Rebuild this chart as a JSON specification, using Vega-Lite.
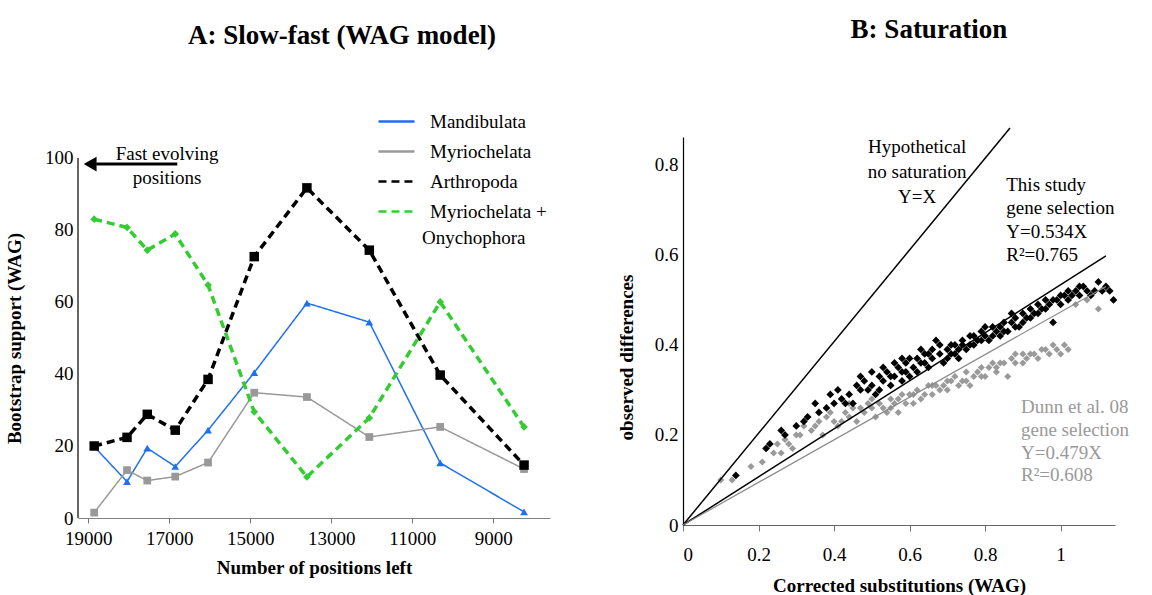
{
  "$schema": "https://vega.github.io/schema/vega-lite/v6.json",
  "background": "white",
  "padding": {"left": 5, "top": 15, "right": 5, "bottom": 5},
  "spacing": 67,
  "config": {
    "font": "Liberation Serif",
    "view": {"stroke": null},
    "axis": {"grid": false, "labelFont": "Liberation Serif", "titleFont": "Liberation Serif", "labelColor": "black", "titleColor": "black", "labelFontSize": 19, "titleFontSize": 19, "titleFontWeight": "bold", "domainColor": "black", "tickColor": "#777777", "domainWidth": 1.2},
    "title": {"font": "Liberation Serif", "fontSize": 27, "fontWeight": "bold", "color": "black"},
    "legend": {"labelFont": "Liberation Serif", "labelFontSize": 19, "labelColor": "black"}
  },
  "datasets": {
    "bootstrap": [
      {"series": "Mandibulata", "positions": 18850, "support": 19.8},
      {"series": "Mandibulata", "positions": 18040, "support": 10.1},
      {"series": "Mandibulata", "positions": 17540, "support": 19.4},
      {"series": "Mandibulata", "positions": 16850, "support": 14.3},
      {"series": "Mandibulata", "positions": 16040, "support": 24.4},
      {"series": "Mandibulata", "positions": 14900, "support": 40.4},
      {"series": "Mandibulata", "positions": 13600, "support": 59.7},
      {"series": "Mandibulata", "positions": 12060, "support": 54.4},
      {"series": "Mandibulata", "positions": 10310, "support": 15.3},
      {"series": "Mandibulata", "positions": 8240, "support": 1.7},
      {"series": "Myriochelata", "positions": 18850, "support": 1.5},
      {"series": "Myriochelata", "positions": 18040, "support": 13.3},
      {"series": "Myriochelata", "positions": 17540, "support": 10.4},
      {"series": "Myriochelata", "positions": 16850, "support": 11.5},
      {"series": "Myriochelata", "positions": 16040, "support": 15.4},
      {"series": "Myriochelata", "positions": 14900, "support": 34.8},
      {"series": "Myriochelata", "positions": 13600, "support": 33.6},
      {"series": "Myriochelata", "positions": 12060, "support": 22.5},
      {"series": "Myriochelata", "positions": 10310, "support": 25.3},
      {"series": "Myriochelata", "positions": 8240, "support": 13.6},
      {"series": "Arthropoda", "positions": 18850, "support": 20},
      {"series": "Arthropoda", "positions": 18040, "support": 22.4},
      {"series": "Arthropoda", "positions": 17540, "support": 28.8},
      {"series": "Arthropoda", "positions": 16850, "support": 24.4},
      {"series": "Arthropoda", "positions": 16040, "support": 38.5},
      {"series": "Arthropoda", "positions": 14900, "support": 72.6},
      {"series": "Arthropoda", "positions": 13600, "support": 91.7},
      {"series": "Arthropoda", "positions": 12060, "support": 74.4},
      {"series": "Arthropoda", "positions": 10310, "support": 39.7},
      {"series": "Arthropoda", "positions": 8240, "support": 14.7},
      {"series": "Myriochelata + Onychophora", "positions": 18850, "support": 83},
      {"series": "Myriochelata + Onychophora", "positions": 18040, "support": 80.7},
      {"series": "Myriochelata + Onychophora", "positions": 17540, "support": 74.4},
      {"series": "Myriochelata + Onychophora", "positions": 16850, "support": 78.9},
      {"series": "Myriochelata + Onychophora", "positions": 16040, "support": 64.7},
      {"series": "Myriochelata + Onychophora", "positions": 14900, "support": 29.5},
      {"series": "Myriochelata + Onychophora", "positions": 13600, "support": 11.4},
      {"series": "Myriochelata + Onychophora", "positions": 12060, "support": 27.8},
      {"series": "Myriochelata + Onychophora", "positions": 10310, "support": 60},
      {"series": "Myriochelata + Onychophora", "positions": 8240, "support": 25.3}
    ],
    "leftNotes": [
      {"positions": 17050, "support": 101, "label": "Fast evolving"},
      {"positions": 17050, "support": 94.4, "label": "positions"}
    ],
    "legendWrap": [
      {"positions": 10760, "support": 77.8, "label": "Onychophora"}
    ],
    "yAxisLine": [
      {"positions": 19250, "support": 0, "support2": 100}
    ],
    "arrow": [
      {"positions": 16800, "positions2": 18800, "support": 98.3}
    ],
    "arrowHead": [
      {"positions": 18950, "support": 98.3}
    ],
    "fits": [
      {"line": "xy", "cs": 0, "obs": 0},
      {"line": "xy", "cs": 0.866, "obs": 0.882},
      {"line": "this", "cs": 0, "obs": 0},
      {"line": "this", "cs": 1.12, "obs": 0.598},
      {"line": "dunn", "cs": 0, "obs": 0},
      {"line": "dunn", "cs": 1.12, "obs": 0.53}
    ],
    "dunn": [
      {"cs": 0.10, "obs": 0.10}, {"cs": 0.13, "obs": 0.10}, {"cs": 0.18, "obs": 0.13}, {"cs": 0.21, "obs": 0.14},
      {"cs": 0.23, "obs": 0.18}, {"cs": 0.25, "obs": 0.18}, {"cs": 0.26, "obs": 0.16}, {"cs": 0.28, "obs": 0.18},
      {"cs": 0.30, "obs": 0.20}, {"cs": 0.31, "obs": 0.20}, {"cs": 0.33, "obs": 0.24}, {"cs": 0.34, "obs": 0.21},
      {"cs": 0.36, "obs": 0.23}, {"cs": 0.37, "obs": 0.20}, {"cs": 0.39, "obs": 0.25}, {"cs": 0.40, "obs": 0.23},
      {"cs": 0.41, "obs": 0.22}, {"cs": 0.43, "obs": 0.25}, {"cs": 0.44, "obs": 0.24}, {"cs": 0.45, "obs": 0.26},
      {"cs": 0.46, "obs": 0.23}, {"cs": 0.48, "obs": 0.25}, {"cs": 0.49, "obs": 0.27}, {"cs": 0.50, "obs": 0.26},
      {"cs": 0.51, "obs": 0.24}, {"cs": 0.52, "obs": 0.27}, {"cs": 0.54, "obs": 0.25}, {"cs": 0.55, "obs": 0.28},
      {"cs": 0.56, "obs": 0.27}, {"cs": 0.57, "obs": 0.25}, {"cs": 0.58, "obs": 0.29}, {"cs": 0.60, "obs": 0.29},
      {"cs": 0.61, "obs": 0.27}, {"cs": 0.62, "obs": 0.30}, {"cs": 0.63, "obs": 0.28}, {"cs": 0.65, "obs": 0.31},
      {"cs": 0.66, "obs": 0.29}, {"cs": 0.67, "obs": 0.31}, {"cs": 0.69, "obs": 0.31}, {"cs": 0.70, "obs": 0.30},
      {"cs": 0.71, "obs": 0.32}, {"cs": 0.72, "obs": 0.33}, {"cs": 0.74, "obs": 0.32}, {"cs": 0.75, "obs": 0.34},
      {"cs": 0.76, "obs": 0.31}, {"cs": 0.78, "obs": 0.34}, {"cs": 0.79, "obs": 0.35}, {"cs": 0.80, "obs": 0.33},
      {"cs": 0.82, "obs": 0.36}, {"cs": 0.83, "obs": 0.34}, {"cs": 0.84, "obs": 0.36}, {"cs": 0.86, "obs": 0.33},
      {"cs": 0.87, "obs": 0.37}, {"cs": 0.88, "obs": 0.36}, {"cs": 0.90, "obs": 0.38}, {"cs": 0.91, "obs": 0.37},
      {"cs": 0.93, "obs": 0.38}, {"cs": 0.95, "obs": 0.39}, {"cs": 0.97, "obs": 0.38}, {"cs": 0.99, "obs": 0.39},
      {"cs": 1.01, "obs": 0.40}, {"cs": 1.02, "obs": 0.39}, {"cs": 1.04, "obs": 0.49}, {"cs": 1.07, "obs": 0.50},
      {"cs": 1.10, "obs": 0.48},
      {"cs": 0.35, "obs": 0.22}, {"cs": 0.38, "obs": 0.24}, {"cs": 0.42, "obs": 0.23}, {"cs": 0.44, "obs": 0.27},
      {"cs": 0.47, "obs": 0.26}, {"cs": 0.50, "obs": 0.28}, {"cs": 0.53, "obs": 0.26}, {"cs": 0.55, "obs": 0.26},
      {"cs": 0.57, "obs": 0.28}, {"cs": 0.59, "obs": 0.27}, {"cs": 0.61, "obs": 0.29}, {"cs": 0.64, "obs": 0.29},
      {"cs": 0.66, "obs": 0.31}, {"cs": 0.68, "obs": 0.30}, {"cs": 0.70, "obs": 0.32}, {"cs": 0.73, "obs": 0.31},
      {"cs": 0.75, "obs": 0.32}, {"cs": 0.77, "obs": 0.33}, {"cs": 0.79, "obs": 0.33}, {"cs": 0.81, "obs": 0.35},
      {"cs": 0.83, "obs": 0.35}, {"cs": 0.85, "obs": 0.36}, {"cs": 0.88, "obs": 0.38}, {"cs": 0.90, "obs": 0.36},
      {"cs": 0.92, "obs": 0.38}, {"cs": 0.94, "obs": 0.37}, {"cs": 0.96, "obs": 0.39}, {"cs": 0.98, "obs": 0.40},
      {"cs": 1.00, "obs": 0.38}, {"cs": 0.27, "obs": 0.19}, {"cs": 0.29, "obs": 0.17}, {"cs": 0.32, "obs": 0.22},
      {"cs": 0.24, "obs": 0.16}
    ],
    "thisStudy": [
      {"cs": 0.14, "obs": 0.11}, {"cs": 0.22, "obs": 0.17}, {"cs": 0.23, "obs": 0.18}, {"cs": 0.26, "obs": 0.21},
      {"cs": 0.27, "obs": 0.20}, {"cs": 0.30, "obs": 0.22}, {"cs": 0.32, "obs": 0.23}, {"cs": 0.33, "obs": 0.24},
      {"cs": 0.36, "obs": 0.25}, {"cs": 0.38, "obs": 0.26}, {"cs": 0.39, "obs": 0.29}, {"cs": 0.40, "obs": 0.27},
      {"cs": 0.42, "obs": 0.28}, {"cs": 0.44, "obs": 0.29}, {"cs": 0.45, "obs": 0.27}, {"cs": 0.46, "obs": 0.31},
      {"cs": 0.47, "obs": 0.30}, {"cs": 0.48, "obs": 0.32}, {"cs": 0.50, "obs": 0.31}, {"cs": 0.51, "obs": 0.29},
      {"cs": 0.52, "obs": 0.33}, {"cs": 0.53, "obs": 0.32}, {"cs": 0.54, "obs": 0.34}, {"cs": 0.55, "obs": 0.31},
      {"cs": 0.56, "obs": 0.33}, {"cs": 0.57, "obs": 0.35}, {"cs": 0.58, "obs": 0.34}, {"cs": 0.59, "obs": 0.36},
      {"cs": 0.60, "obs": 0.33}, {"cs": 0.61, "obs": 0.35}, {"cs": 0.62, "obs": 0.37}, {"cs": 0.63, "obs": 0.36},
      {"cs": 0.64, "obs": 0.38}, {"cs": 0.65, "obs": 0.35}, {"cs": 0.66, "obs": 0.37}, {"cs": 0.67, "obs": 0.41},
      {"cs": 0.68, "obs": 0.38}, {"cs": 0.69, "obs": 0.36}, {"cs": 0.70, "obs": 0.39}, {"cs": 0.71, "obs": 0.38},
      {"cs": 0.72, "obs": 0.40}, {"cs": 0.73, "obs": 0.39}, {"cs": 0.74, "obs": 0.41}, {"cs": 0.75, "obs": 0.39},
      {"cs": 0.76, "obs": 0.40}, {"cs": 0.77, "obs": 0.42}, {"cs": 0.78, "obs": 0.41}, {"cs": 0.79, "obs": 0.43},
      {"cs": 0.80, "obs": 0.42}, {"cs": 0.81, "obs": 0.41}, {"cs": 0.82, "obs": 0.44}, {"cs": 0.83, "obs": 0.43},
      {"cs": 0.84, "obs": 0.44}, {"cs": 0.85, "obs": 0.45}, {"cs": 0.86, "obs": 0.43}, {"cs": 0.87, "obs": 0.45},
      {"cs": 0.88, "obs": 0.46}, {"cs": 0.89, "obs": 0.44}, {"cs": 0.90, "obs": 0.47}, {"cs": 0.91, "obs": 0.46},
      {"cs": 0.92, "obs": 0.48}, {"cs": 0.93, "obs": 0.47}, {"cs": 0.94, "obs": 0.49}, {"cs": 0.95, "obs": 0.48},
      {"cs": 0.96, "obs": 0.50}, {"cs": 0.97, "obs": 0.49}, {"cs": 0.98, "obs": 0.45}, {"cs": 0.99, "obs": 0.50},
      {"cs": 1.00, "obs": 0.49}, {"cs": 1.01, "obs": 0.51}, {"cs": 1.02, "obs": 0.50}, {"cs": 1.03, "obs": 0.51},
      {"cs": 1.04, "obs": 0.52}, {"cs": 1.05, "obs": 0.51}, {"cs": 1.06, "obs": 0.53}, {"cs": 1.07, "obs": 0.52},
      {"cs": 1.09, "obs": 0.52}, {"cs": 1.10, "obs": 0.54}, {"cs": 1.12, "obs": 0.53}, {"cs": 1.13, "obs": 0.52},
      {"cs": 1.14, "obs": 0.50},
      {"cs": 0.35, "obs": 0.27}, {"cs": 0.41, "obs": 0.30}, {"cs": 0.43, "obs": 0.27}, {"cs": 0.47, "obs": 0.33},
      {"cs": 0.49, "obs": 0.30}, {"cs": 0.50, "obs": 0.34}, {"cs": 0.52, "obs": 0.30}, {"cs": 0.53, "obs": 0.35},
      {"cs": 0.55, "obs": 0.33}, {"cs": 0.56, "obs": 0.36}, {"cs": 0.58, "obs": 0.32}, {"cs": 0.59, "obs": 0.34},
      {"cs": 0.60, "obs": 0.37}, {"cs": 0.62, "obs": 0.34}, {"cs": 0.63, "obs": 0.39}, {"cs": 0.64, "obs": 0.36},
      {"cs": 0.66, "obs": 0.39}, {"cs": 0.68, "obs": 0.40}, {"cs": 0.70, "obs": 0.37}, {"cs": 0.71, "obs": 0.40},
      {"cs": 0.73, "obs": 0.37}, {"cs": 0.74, "obs": 0.40}, {"cs": 0.76, "obs": 0.42}, {"cs": 0.77, "obs": 0.40},
      {"cs": 0.79, "obs": 0.41}, {"cs": 0.80, "obs": 0.44}, {"cs": 0.82, "obs": 0.42}, {"cs": 0.84, "obs": 0.42},
      {"cs": 0.85, "obs": 0.43}, {"cs": 0.87, "obs": 0.47}, {"cs": 0.88, "obs": 0.44}, {"cs": 0.90, "obs": 0.45},
      {"cs": 0.92, "obs": 0.46}, {"cs": 0.94, "obs": 0.47}, {"cs": 0.96, "obs": 0.48}, {"cs": 0.98, "obs": 0.50},
      {"cs": 1.00, "obs": 0.51}, {"cs": 1.02, "obs": 0.52}, {"cs": 1.05, "obs": 0.53}, {"cs": 1.08, "obs": 0.51},
      {"cs": 1.11, "obs": 0.52}, {"cs": 0.58, "obs": 0.37}, {"cs": 0.65, "obs": 0.38}, {"cs": 0.72, "obs": 0.38}
    ],
    "centerNotes": [
      {"cs": 0.62, "obs": 0.84, "label": "Hypothetical"},
      {"cs": 0.62, "obs": 0.785, "label": "no saturation"},
      {"cs": 0.62, "obs": 0.729, "label": "Y=X"}
    ],
    "leftAlignedNotes": [
      {"group": "this", "cs": 0.856, "obs": 0.756, "label": "This study"},
      {"group": "this", "cs": 0.856, "obs": 0.704, "label": "gene selection"},
      {"group": "this", "cs": 0.856, "obs": 0.651, "label": "Y=0.534X"},
      {"group": "this", "cs": 0.856, "obs": 0.600, "label": "R²=0.765"},
      {"group": "dunn", "cs": 0.895, "obs": 0.262, "label": "Dunn et al. 08"},
      {"group": "dunn", "cs": 0.895, "obs": 0.211, "label": "gene selection"},
      {"group": "dunn", "cs": 0.895, "obs": 0.160, "label": "Y=0.479X"},
      {"group": "dunn", "cs": 0.895, "obs": 0.111, "label": "R²=0.608"}
    ]
  },
  "hconcat": [
    {
      "width": 472,
      "height": 381,
      "title": {"text": "A: Slow-fast (WAG model)", "offset": 87, "dx": 28},
      "layer": [
        {
          "data": {"name": "bootstrap"},
          "mark": {"type": "line"},
          "encoding": {
            "x": {"field": "positions", "type": "quantitative",
              "scale": {"domain": [7600, 19250], "reverse": true, "nice": false, "zero": false},
              "axis": {"title": "Number of positions left", "values": [19000, 17000, 15000, 13000, 11000, 9000], "format": "d", "tickSize": 5, "domainColor": "#808080", "labelPadding": 6, "titlePadding": 10}},
            "y": {"field": "support", "type": "quantitative",
              "scale": {"domain": [0, 105.83], "nice": false},
              "axis": {"title": "Bootstrap support (WAG)", "values": [0, 10, 20, 30, 40, 50, 60, 70, 80, 90, 100], "tickSize": 0, "domain": false, "labelPadding": 5, "titlePadding": 20, "titleY": 201}},
            "color": {"field": "series", "type": "nominal", "title": null,
              "scale": {"domain": ["Mandibulata", "Myriochelata", "Arthropoda", "Myriochelata + Onychophora"], "range": ["#1f6ff2", "#999999", "#000000", "#33cc33"]},
              "legend": {"orient": "none", "legendX": 299, "legendY": -35, "symbolType": "stroke", "symbolSize": 1300, "symbolStrokeWidth": 2.5, "rowPadding": 0, "labelOffset": 14,
                "labelExpr": "datum.label == 'Myriochelata + Onychophora' ? 'Myriochelata +' : datum.label"}},
            "strokeDash": {"field": "series", "type": "nominal", "title": null,
              "scale": {"domain": ["Mandibulata", "Myriochelata", "Arthropoda", "Myriochelata + Onychophora"], "range": [[1, 0], [1, 0], [8, 5], [8, 5]]}},
            "strokeWidth": {"condition": {"test": "datum.series == 'Arthropoda' || datum.series == 'Myriochelata + Onychophora'", "value": 3.5}, "value": 1.5}
          }
        },
        {
          "data": {"name": "bootstrap"},
          "mark": {"type": "point", "filled": true, "opacity": 1, "strokeWidth": 0},
          "encoding": {
            "x": {"field": "positions", "type": "quantitative"},
            "y": {"field": "support", "type": "quantitative"},
            "fill": {"condition": [
                {"test": "datum.series == 'Mandibulata'", "value": "#1f6ff2"},
                {"test": "datum.series == 'Myriochelata'", "value": "#999999"},
                {"test": "datum.series == 'Arthropoda'", "value": "#000000"}
              ], "value": "#33cc33"},
            "shape": {"condition": [
                {"test": "datum.series == 'Mandibulata'", "value": "triangle-up"},
                {"test": "datum.series == 'Myriochelata + Onychophora'", "value": "diamond"}
              ], "value": "square"},
            "size": {"condition": {"test": "datum.series == 'Arthropoda'", "value": 90}, "value": 60}
          }
        },
        {
          "data": {"name": "yAxisLine"},
          "mark": {"type": "rule", "color": "black", "strokeWidth": 1.2},
          "encoding": {
            "x": {"field": "positions", "type": "quantitative"},
            "y": {"field": "support", "type": "quantitative"},
            "y2": {"field": "support2"}
          }
        },
        {
          "data": {"name": "leftNotes"},
          "mark": {"type": "text", "fontSize": 19, "font": "Liberation Serif", "align": "center", "baseline": "middle", "color": "black"},
          "encoding": {
            "x": {"field": "positions", "type": "quantitative"},
            "y": {"field": "support", "type": "quantitative"},
            "text": {"field": "label"}
          }
        },
        {
          "data": {"name": "legendWrap"},
          "mark": {"type": "text", "fontSize": 19, "font": "Liberation Serif", "align": "left", "baseline": "middle", "color": "black"},
          "encoding": {
            "x": {"field": "positions", "type": "quantitative"},
            "y": {"field": "support", "type": "quantitative"},
            "text": {"field": "label"}
          }
        },
        {
          "data": {"name": "arrow"},
          "mark": {"type": "rule", "color": "black", "strokeWidth": 3},
          "encoding": {
            "x": {"field": "positions", "type": "quantitative"},
            "x2": {"field": "positions2"},
            "y": {"field": "support", "type": "quantitative"}
          }
        },
        {
          "data": {"name": "arrowHead"},
          "mark": {"type": "point", "shape": "triangle-left", "filled": true, "color": "black", "opacity": 1, "size": 220},
          "encoding": {
            "x": {"field": "positions", "type": "quantitative"},
            "y": {"field": "support", "type": "quantitative"}
          }
        }
      ]
    },
    {
      "width": 432,
      "height": 388,
      "title": {"text": "B: Saturation", "offset": 81, "dx": 30},
      "layer": [
        {
          "data": {"name": "dunn"},
          "mark": {"type": "point", "shape": "diamond", "filled": true, "color": "#9a9a9a", "opacity": 1, "size": 50},
          "encoding": {
            "x": {"field": "cs", "type": "quantitative",
              "scale": {"domain": [0, 1.144], "nice": false},
              "axis": {"title": "Corrected substitutions (WAG)", "values": [0, 0.2, 0.4, 0.6, 0.8, 1], "format": "~g", "tickSize": 6, "domainColor": "#666666", "labelPadding": 14, "titlePadding": 12}},
            "y": {"field": "obs", "type": "quantitative",
              "scale": {"domain": [0, 0.862], "nice": false},
              "axis": {"title": "observed differences", "values": [0, 0.2, 0.4, 0.6, 0.8], "format": "~g", "tickSize": 0, "labelPadding": 5, "titlePadding": 18, "titleY": 220}}
          }
        },
        {
          "data": {"name": "thisStudy"},
          "mark": {"type": "point", "shape": "diamond", "filled": true, "color": "#000000", "opacity": 1, "size": 60},
          "encoding": {
            "x": {"field": "cs", "type": "quantitative"},
            "y": {"field": "obs", "type": "quantitative"}
          }
        },
        {
          "data": {"name": "fits"},
          "transform": [{"filter": "datum.line != 'dunn'"}],
          "mark": {"type": "line", "color": "black", "strokeWidth": 1.5},
          "encoding": {
            "x": {"field": "cs", "type": "quantitative"},
            "y": {"field": "obs", "type": "quantitative"},
            "detail": {"field": "line"}
          }
        },
        {
          "data": {"name": "fits"},
          "transform": [{"filter": "datum.line == 'dunn'"}],
          "mark": {"type": "line", "color": "#8a8a8a", "strokeWidth": 1.2},
          "encoding": {
            "x": {"field": "cs", "type": "quantitative"},
            "y": {"field": "obs", "type": "quantitative"}
          }
        },
        {
          "data": {"name": "centerNotes"},
          "mark": {"type": "text", "fontSize": 19, "font": "Liberation Serif", "align": "center", "baseline": "middle", "color": "black"},
          "encoding": {
            "x": {"field": "cs", "type": "quantitative"},
            "y": {"field": "obs", "type": "quantitative"},
            "text": {"field": "label"}
          }
        },
        {
          "data": {"name": "leftAlignedNotes"},
          "mark": {"type": "text", "fontSize": 19, "font": "Liberation Serif", "align": "left", "baseline": "middle"},
          "encoding": {
            "x": {"field": "cs", "type": "quantitative"},
            "y": {"field": "obs", "type": "quantitative"},
            "text": {"field": "label"},
            "color": {"condition": {"test": "datum.group == 'dunn'", "value": "#999999"}, "value": "#000000"}
          }
        }
      ]
    }
  ]
}
